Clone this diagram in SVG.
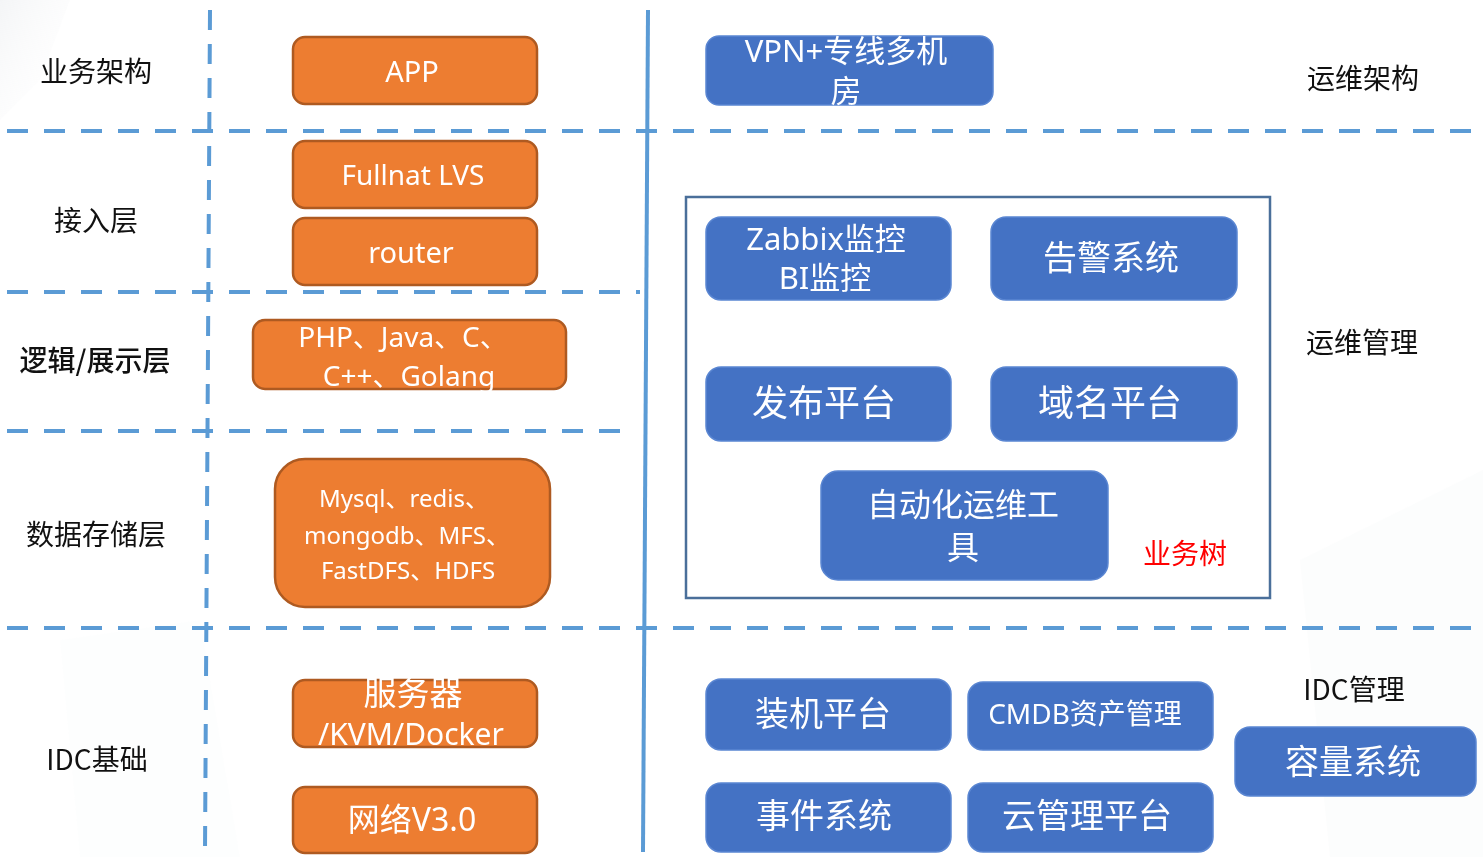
<svg xmlns="http://www.w3.org/2000/svg" width="1483" height="857" viewBox="0 0 1483 857">
<style>
.lbl{font-family:"Noto Sans CJK SC","Noto Sans",sans-serif;font-size:28px;fill:#111;text-anchor:middle;dominant-baseline:central}
.ot{font-family:"Noto Sans","Noto Sans CJK SC",sans-serif;fill:#fff;text-anchor:middle;dominant-baseline:central}
.ob{fill:#ED7D31;stroke:#AE5A21;stroke-width:2.5}
.bb{fill:#4472C4;stroke:#5a86d2;stroke-width:1.5}
.dash{stroke:#5B9BD5;stroke-width:4;stroke-dasharray:21 16;fill:none}
.vdash{stroke:#5B9BD5;stroke-width:4;stroke-dasharray:20 14;fill:none}
</style>
<defs>
<linearGradient id="bg1" x1="0" y1="0" x2="1" y2="1">
<stop offset="0" stop-color="#e9ebee"/>
<stop offset="1" stop-color="#ffffff" stop-opacity="0"/>
</linearGradient>
</defs>
<rect width="1483" height="857" fill="#ffffff"/>
<g id="background" opacity="0.5">
<polygon points="0,0 70,0 40,80 0,120" fill="url(#bg1)"/>
<polygon points="1300,560 1483,470 1483,857 1330,857" fill="#f6f7f8" opacity="0.5"/>
<polygon points="60,640 200,620 240,857 80,857" fill="#f8f9fa" opacity="0.4"/>
</g>
<g id="connectors">
<line class="dash" x1="7" y1="131" x2="1475" y2="131"/>
<line class="dash" x1="7" y1="292" x2="640" y2="292"/>
<line class="dash" x1="7" y1="431" x2="630" y2="431"/>
<line class="dash" x1="7" y1="628" x2="1475" y2="628"/>
<line class="vdash" x1="210" y1="10" x2="205" y2="852"/>
<line x1="648" y1="10" x2="643" y2="852" stroke="#5B9BD5" stroke-width="4"/>
</g>
<g id="label-yewu"><text class="lbl" x="96" y="70">业务架构</text></g>
<g id="label-jieru"><text class="lbl" x="96" y="219">接入层</text></g>
<g id="label-luoji"><text class="lbl" x="95" y="359" font-weight="500">逻辑/展示层</text></g>
<g id="label-shuju"><text class="lbl" x="96" y="533">数据存储层</text></g>
<g id="label-idc"><text class="lbl" x="97" y="758">IDC基础</text></g>
<g id="node-app"><rect class="ob" x="293" y="37" width="244" height="67" rx="12"/><text class="ot" x="412" y="70" font-size="29">APP</text></g>
<g id="node-lvs"><rect class="ob" x="293" y="141" width="244" height="67" rx="12"/><text class="ot" x="413" y="174" font-size="28">Fullnat LVS</text></g>
<g id="node-router"><rect class="ob" x="293" y="218" width="244" height="67" rx="12"/><text class="ot" x="411" y="251" font-size="29">router</text></g>
<g id="node-lang"><rect class="ob" x="253" y="320" width="313" height="69" rx="12"/><text class="ot" x="403" y="336" font-size="28">PHP、Java、C、</text><text class="ot" x="409" y="375" font-size="28">C++、Golang</text></g>
<g id="node-storage"><rect class="ob" x="275" y="459" width="275" height="148" rx="30"/><text class="ot" x="404" y="497" font-size="24">Mysql、redis、</text><text class="ot" x="407" y="534" font-size="24">mongodb、MFS、</text><text class="ot" x="408" y="569" font-size="24">FastDFS、HDFS</text></g>
<g id="node-server"><rect class="ob" x="293" y="680" width="244" height="67" rx="12"/><text class="ot" x="413" y="692" font-size="33">服务器</text><text class="ot" x="411" y="733" font-size="30">/KVM/Docker</text></g>
<g id="node-net"><rect class="ob" x="293" y="787" width="244" height="66" rx="12"/><text class="ot" x="412" y="818" font-size="32">网络V3.0</text></g>
<g id="node-vpn"><rect class="bb" x="706" y="36" width="287" height="69" rx="13"/><text class="ot" x="846" y="50" font-size="31">VPN+专线多机</text><text class="ot" x="846" y="90" font-size="31">房</text></g>
<g id="label-ywjg"><text class="lbl" x="1363" y="77">运维架构</text></g>
<g id="group-ywgl"><rect x="686" y="197" width="584" height="401" fill="none" stroke="#4a6f9a" stroke-width="2.5"/></g>
<g id="node-zabbix"><rect class="bb" x="706" y="217" width="245" height="83" rx="15"/><text class="ot" x="826" y="238" font-size="31">Zabbix监控</text><text class="ot" x="825" y="277" font-size="31">BI监控</text></g>
<g id="node-alarm"><rect class="bb" x="991" y="217" width="246" height="83" rx="15"/><text class="ot" x="1111" y="257" font-size="34">告警系统</text></g>
<g id="node-release"><rect class="bb" x="706" y="367" width="245" height="74" rx="15"/><text class="ot" x="824" y="402" font-size="36">发布平台</text></g>
<g id="node-domain"><rect class="bb" x="991" y="367" width="246" height="74" rx="15"/><text class="ot" x="1110" y="402" font-size="36">域名平台</text></g>
<g id="node-auto"><rect class="bb" x="821" y="471" width="287" height="109" rx="17"/><text class="ot" x="963" y="503" font-size="32">自动化运维工</text><text class="ot" x="963" y="546" font-size="32">具</text></g>
<g id="label-tree"><text class="lbl" x="1185" y="552" style="fill:#ff0000">业务树</text></g>
<g id="label-ywgl"><text class="lbl" x="1362" y="341">运维管理</text></g>
<g id="node-install"><rect class="bb" x="706" y="679" width="245" height="71" rx="15"/><text class="ot" x="823" y="713" font-size="34">装机平台</text></g>
<g id="node-cmdb"><rect class="bb" x="968" y="682" width="245" height="68" rx="15"/><text class="ot" x="1085" y="713" font-size="28">CMDB资产管理</text></g>
<g id="node-event"><rect class="bb" x="706" y="783" width="245" height="69" rx="15"/><text class="ot" x="824" y="815" font-size="34">事件系统</text></g>
<g id="node-cloud"><rect class="bb" x="968" y="783" width="245" height="69" rx="15"/><text class="ot" x="1087" y="815" font-size="34">云管理平台</text></g>
<g id="label-idcgl"><text class="lbl" x="1354" y="688">IDC管理</text></g>
<g id="node-capacity"><rect class="bb" x="1235" y="727" width="241" height="69" rx="15"/><text class="ot" x="1353" y="761" font-size="34">容量系统</text></g>
</svg>
